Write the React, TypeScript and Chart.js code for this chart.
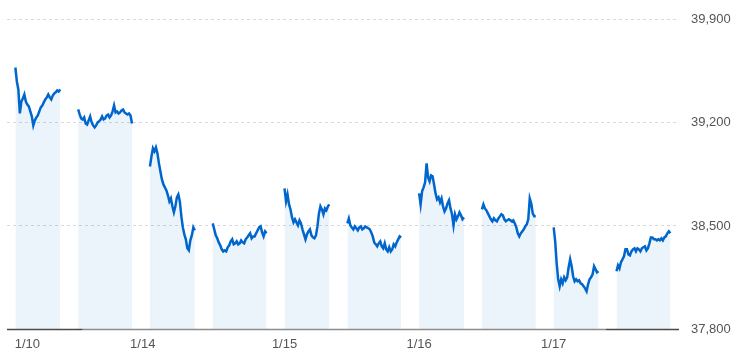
import React, { useEffect, useRef } from 'react';
import { Chart, registerables } from 'chart.js';

Chart.register(...registerables);

// Day labels (Nikkei 225 intraday, 5 trading days)
const dayLabels = ['1/10', '1/14', '1/15', '1/16', '1/17'];

// Morning session values (9:00-11:30, 5-min steps)
const am0110 = [39576, 39481, 39427, 39264, 39345, 39366, 39393, 39345, 39325, 39312, 39278, 39244, 39183, 39217, 39237, 39250, 39278, 39305, 39318, 39339, 39359, 39373, 39393, 39373, 39359, 39386, 39400, 39407, 39420, 39413, 39427];
const am0114 = [38904, 38972, 39027, 39006, 39033, 38993, 38925, 38870, 38816, 38782, 38762, 38741, 38708, 38667, 38687, 38633, 38592, 38633, 38694, 38714, 38667, 38565, 38490, 38443, 38409, 38348, 38334, 38402, 38436, 38490, 38470];
const am0115 = [38755, 38667, 38714, 38646, 38612, 38558, 38524, 38545, 38524, 38504, 38538, 38517, 38477, 38443, 38409, 38443, 38463, 38477, 38436, 38422, 38416, 38436, 38497, 38585, 38633, 38612, 38579, 38619, 38606, 38633, 38646];
const am0116 = [38721, 38646, 38735, 38762, 38796, 38925, 38830, 38803, 38843, 38837, 38782, 38721, 38680, 38694, 38660, 38687, 38633, 38599, 38619, 38653, 38674, 38619, 38579, 38504, 38579, 38545, 38565, 38592, 38572, 38545, 38558];
const am0117 = [38490, 38395, 38246, 38137, 38090, 38137, 38110, 38151, 38131, 38151, 38219, 38273, 38226, 38158, 38124, 38137, 38124, 38131, 38110, 38104, 38090, 38076, 38056, 38104, 38137, 38151, 38171, 38226, 38205, 38185, 38192];

// Afternoon session values (12:30-15:30, 5-min steps)
const pm0110 = [39291, 39257, 39230, 39223, 39237, 39196, 39189, 39217, 39244, 39203, 39183, 39169, 39183, 39203, 39210, 39223, 39244, 39223, 39230, 39250, 39257, 39237, 39250, 39278, 39318, 39271, 39278, 39264, 39271, 39284, 39291, 39271, 39264, 39257, 39264, 39250, 39196];
const pm0114 = [38517, 38477, 38436, 38416, 38388, 38368, 38341, 38327, 38334, 38327, 38355, 38368, 38395, 38409, 38375, 38382, 38395, 38375, 38382, 38402, 38388, 38382, 38409, 38422, 38436, 38450, 38416, 38429, 38429, 38450, 38470, 38490, 38497, 38456, 38429, 38463, 38450];
const pm0115 = [38517, 38551, 38504, 38490, 38477, 38497, 38484, 38470, 38490, 38497, 38477, 38484, 38497, 38490, 38484, 38477, 38456, 38429, 38388, 38375, 38361, 38382, 38395, 38361, 38348, 38382, 38341, 38327, 38355, 38327, 38341, 38375, 38361, 38388, 38409, 38429, 38422];
const pm0116 = [38612, 38646, 38619, 38606, 38585, 38565, 38545, 38531, 38551, 38538, 38531, 38551, 38565, 38579, 38572, 38545, 38531, 38538, 38545, 38538, 38531, 38538, 38517, 38490, 38450, 38429, 38450, 38463, 38477, 38497, 38511, 38545, 38687, 38653, 38585, 38565, 38565];
const pm0117 = [38192, 38232, 38212, 38253, 38273, 38294, 38341, 38341, 38307, 38300, 38327, 38341, 38348, 38327, 38348, 38341, 38327, 38348, 38355, 38361, 38334, 38348, 38382, 38422, 38422, 38409, 38409, 38402, 38409, 38402, 38416, 38402, 38422, 38429, 38450, 38463, 38450];

const morningSessions = [am0110, am0114, am0115, am0116, am0117];
const afternoonSessions = [pm0110, pm0114, pm0115, pm0116, pm0117];

// Time axis (minutes from 9:00 of first day; each day slot = 450 min incl. breaks)
const DAY_SLOT = 450;
const AM_START = 0;
const AM_END = 150;
const PM_START = 210;
const PM_END = 390;
const X_MIN = -28;
const X_MAX = 2219;
const xTickValues = [40, 426, 900, 1350, 1800];

const yTickValues = [37800, 38500, 39200, 39900];
const Y_MIN = 37800;
const Y_MAX = 39900;

const LINE_COLOR = '#0066cc';
const FILL_COLOR = 'rgba(0,102,204,0.08)';
const FONT = '"Liberation Sans", Arial, sans-serif';

function toPoints(vals: number[], day: number, start: number, end: number) {
  const step = (end - start) / (vals.length - 1);
  return vals.map((v, i) => ({ x: day * DAY_SLOT + start + i * step, y: v }));
}

const baselinePlugin = {
  id: 'baseline',
  afterDatasetsDraw(chart: any) {
    const { ctx, chartArea, scales } = chart;
    const y = chartArea.bottom + 0.5;
    const xs = scales.x;
    const a = xs.getPixelForValue(225);
    const b = xs.getPixelForValue(1975);
    ctx.save();
    ctx.lineWidth = 1.5;
    ctx.strokeStyle = '#8c8c8c';
    ctx.beginPath();
    ctx.moveTo(a, y);
    ctx.lineTo(b, y);
    ctx.stroke();
    ctx.strokeStyle = '#4a4a4a';
    ctx.beginPath();
    ctx.moveTo(chartArea.left, y);
    ctx.lineTo(a, y);
    ctx.moveTo(b, y);
    ctx.lineTo(chartArea.right, y);
    ctx.stroke();
    ctx.restore();
  },
};

export default function App() {
  const ref = useRef<HTMLCanvasElement | null>(null);

  useEffect(() => {
    if (!ref.current) return;
    const datasets: any[] = [];
    morningSessions.forEach((vals, d) => {
      datasets.push({
        data: toPoints(vals, d, AM_START, AM_END),
        borderColor: LINE_COLOR,
        backgroundColor: FILL_COLOR,
        borderWidth: 2.5,
        fill: 'start',
        pointRadius: 0,
        tension: 0,
      });
      datasets.push({
        data: toPoints(afternoonSessions[d], d, PM_START, PM_END),
        borderColor: LINE_COLOR,
        backgroundColor: FILL_COLOR,
        borderWidth: 2.5,
        fill: 'start',
        pointRadius: 0,
        tension: 0,
      });
    });

    const chart = new Chart(ref.current, {
      type: 'line',
      data: { datasets },
      plugins: [baselinePlugin],
      options: {
        animation: false,
        responsive: false,
        maintainAspectRatio: false,
        layout: { padding: { left: 7, top: 18, right: 0, bottom: 0 } },
        plugins: { legend: { display: false }, tooltip: { enabled: false } },
        scales: {
          x: {
            type: 'linear',
            min: X_MIN,
            max: X_MAX,
            grid: { display: false, drawTicks: false },
            border: { display: false },
            afterBuildTicks: (s: any) => {
              s.ticks = xTickValues.map((v) => ({ value: v }));
            },
            afterFit: (s: any) => {
              s.height = 33;
            },
            ticks: {
              autoSkip: false,
              maxRotation: 0,
              padding: 8,
              color: '#555',
              font: { family: FONT, size: 13 },
              callback: (_v: any, i: number) => dayLabels[i],
            },
          },
          y: {
            position: 'right',
            min: Y_MIN,
            max: Y_MAX,
            afterBuildTicks: (s: any) => {
              s.ticks = yTickValues.map((v) => ({ value: v }));
            },
            afterFit: (s: any) => {
              s.width = 57;
            },
            grid: {
              drawTicks: false,
              lineWidth: 1,
              color: (c: any) => (c.tick && c.tick.value === Y_MIN ? 'rgba(0,0,0,0)' : '#d9d9d9'),
            },
            border: { display: false, dash: [3, 3] },
            ticks: {
              padding: 12,
              color: '#555',
              font: { family: FONT, size: 13 },
              callback: (v: any) => Number(v).toLocaleString('en-US'),
            },
          },
        },
      } as any,
    });
    return () => chart.destroy();
  }, []);

  return (
    <div style={{ position: 'absolute', left: 0, top: 0, width: 736, height: 362, background: '#fff' }}>
      <canvas ref={ref} width={736} height={362} style={{ width: 736, height: 362, display: 'block' }} />
    </div>
  );
}
